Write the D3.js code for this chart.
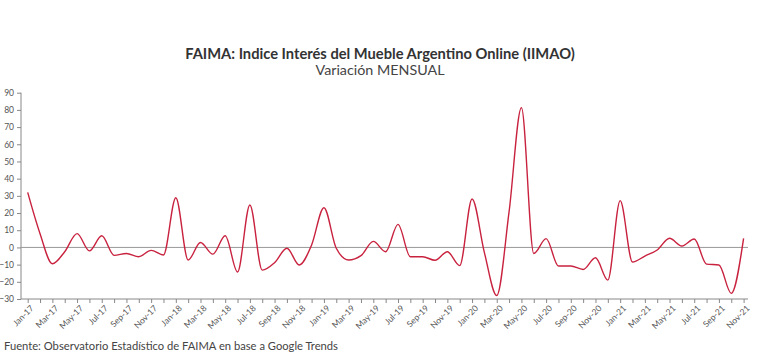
<!DOCTYPE html>
<html><head><meta charset="utf-8">
<script src="https://cdn.jsdelivr.net/npm/d3@7"></script>
<style>body{margin:0;background:#fff;} svg{display:block;}</style>
</head><body>
<svg id="c" width="761" height="354"></svg>
<script>
const months = ["Jan","Feb","Mar","Apr","May","Jun","Jul","Aug","Sep","Oct","Nov","Dec"];
const categories = [];
for (let yy = 17; yy <= 21; yy++) for (let m = 0; m < 12; m++) { if (yy === 21 && m > 10) break; categories.push(months[m] + "-" + yy); }
const values = [
  32, 8, -9.5, -2.5, 8, -2, 6.8, -4.6, -3.5, -5.4, -1.7, -4.4,
  28.9, -7.3, 2.9, -3.9, 6.8, -14.3, 24.7, -13.2, -8.9, -0.5, -10.2, 1.4,
  23.1, -0.5, -7.3, -4.8, 3.5, -2.5, 13.4, -5.4, -5.4, -7.5, -2.5, -10.6,
  28.2, -3, -28, 20.8, 81.3, -3.5, 5.1, -10.8, -10.8, -12.8, -6, -19,
  27.2, -8.5, -5, -1.5, 5.3, 0.8, 4.9, -9.7, -10.2, -26.7, 5.3
];
const yTicks = [-30,-20,-10,0,10,20,30,40,50,60,70,80,90];
const title = "FAIMA: Indice Interés del Mueble Argentino Online (IIMAO)";
const subtitle = "Variación MENSUAL";
const source = "Fuente: Observatorio Estadístico de FAIMA en base a Google Trends";

const svg = d3.select("#c");
const font = "'Source Sans Pro','Lato','Open Sans',sans-serif";
const mLeft = 21, mRight = 748, mTop = 92.7, mBottom = 299;
const x = d3.scalePoint().domain(categories).range([27.7, 743.6]);
const y = d3.scaleLinear().domain([-30, 90]).range([mBottom, mTop]);

svg.append("text").attr("x", 380).attr("y", 58.5).attr("text-anchor","middle")
  .attr("font-family", font).attr("font-weight","bold").attr("font-size", 14.7).attr("fill","#333").text(title);
svg.append("text").attr("x", 380).attr("y", 75).attr("text-anchor","middle")
  .attr("font-family", font).attr("font-size", 14.3).attr("fill","#444").text(subtitle);

// y axis
const ya = svg.append("g").attr("transform", `translate(${mLeft},0)`)
  .call(d3.axisLeft(y).tickValues(yTicks).tickSize(4).tickPadding(3));
ya.selectAll("text").attr("font-family", font).attr("font-size", 8.5).attr("fill","#555");
ya.selectAll("line,path").attr("stroke","#888");
ya.select(".domain").attr("d", `M0,${mBottom}V${mTop}`);

// x axis
const xa = svg.append("g").attr("transform", `translate(0,${mBottom})`)
  .call(d3.axisBottom(x).tickSize(4).tickFormat((d,i) => i % 2 === 0 ? d : ""));
xa.select(".domain").attr("d", `M${mLeft},0H${mRight}`).attr("stroke","#888");
xa.selectAll("line").attr("stroke","#888");
xa.selectAll("text").attr("font-family", font).attr("font-size", 8.5).attr("fill","#555")
  .attr("text-anchor","end").attr("transform","rotate(-45)").attr("dx","-0.3em").attr("dy","0.5em");

// zero line
svg.append("line").attr("x1", mLeft).attr("x2", mRight).attr("y1", y(0)).attr("y2", y(0))
  .attr("stroke","#999").attr("stroke-width",1);

// line
const line = d3.line().x((d,i) => x(categories[i])).y(d => y(d)).curve(d3.curveMonotoneX);
svg.append("path").datum(values).attr("d", line).attr("fill","none")
  .attr("stroke","#c8223f").attr("stroke-width",1.4);

svg.append("text").attr("x", 4).attr("y", 350).attr("font-family", font).attr("font-size", 11.2)
  .attr("fill","#444").text(source);
</script>
</body></html>
